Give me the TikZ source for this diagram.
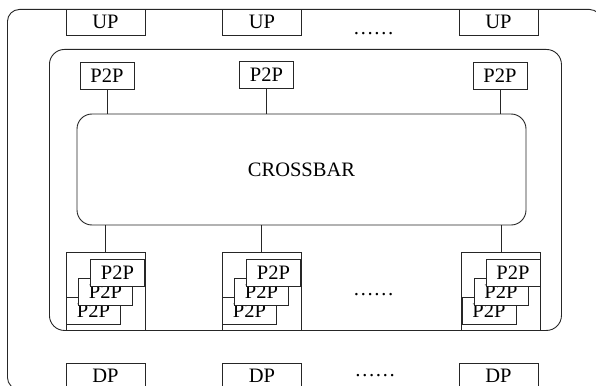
\documentclass[tikz,border=0pt]{standalone}
\usepackage{fontspec}
\setmainfont{Liberation Serif}
\usetikzlibrary{positioning}
\usetikzlibrary{calc}

\begin{document}
\begin{tikzpicture}[x=1pt,y=-1pt,
  box/.style={draw=black!85,line width=0.9pt,inner sep=0pt,font=\fontsize{20.5}{24}\selectfont},
  port/.style={box,minimum width=79pt,minimum height=26pt},
  pp/.style={box,fill=white,minimum width=54pt,minimum height=27pt},
  grp/.style={box,minimum width=79pt,minimum height=78pt},
  frame/.style={box,rounded corners=15pt},
  dots/.style={anchor=base,font=\fontsize{20.5}{24}\selectfont},
  link/.style={draw=black!85,line width=0.9pt}]

  \useasboundingbox (0,0) rectangle (596,385);
  \clip (0,0) rectangle (596,385);

  % Outer system frame and the chip inside it
  \node[frame, rounded corners=12pt, minimum width=594pt, minimum height=380pt, anchor=north west] (sys) at (7,9) {};
  \node[frame, minimum width=512pt, minimum height=281pt, anchor=north west] (chip) at (49,49) {};

  % Upstream ports along the top edge
  \node[port] (up1) at (105.5,22) {UP};
  \node[port] (up2) at (262,22) {UP};
  \node[port] (up3) at (498.5,22) {UP};
  \node[dots] (upd) at (373.5,35) {……};

  % Crossbar with its input P2P blocks
  \node[frame, minimum width=449pt, minimum height=111pt] (xbar) at (301.5,169.5) {CROSSBAR};
  \node[pp] (in1) at (107,75.5) {P2P};
  \node[pp] (in2) at (266.5,75) {P2P};
  \node[pp] (in3) at (500,75.5) {P2P};

  % Output groups, each a stack of three P2P blocks
  \node[grp] (g1) at (105.5,291) {};
  \node[pp, anchor=south west] (g1c) at ([shift={(0.5,-6)}]g1.south west) {P2P};
  \node[pp, anchor=south west] (g1b) at ([shift={(12,-19)}]g1c.south west) {P2P};
  \node[pp, anchor=south west] (g1a) at ([shift={(12,-19)}]g1b.south west) {P2P};

  \node[grp] (g2) at (261.5,291) {};
  \node[pp, anchor=south west] (g2c) at ([shift={(0.5,-6)}]g2.south west) {P2P};
  \node[pp, anchor=south west] (g2b) at ([shift={(12,-19)}]g2c.south west) {P2P};
  \node[pp, anchor=south west] (g2a) at ([shift={(12,-19)}]g2b.south west) {P2P};

  \node[grp] (g3) at (501,291) {};
  \node[pp, anchor=south west] (g3c) at ([shift={(0.5,-6)}]g3.south west) {P2P};
  \node[pp, anchor=south west] (g3b) at ([shift={(12,-19)}]g3c.south west) {P2P};
  \node[pp, anchor=south west] (g3a) at ([shift={(12,-19)}]g3b.south west) {P2P};
  \node[dots] (gd) at (373.5,295) {……};

  % Downstream ports along the bottom edge
  \node[port] (dp1) at (105.5,376) {DP};
  \node[port] (dp2) at (262,376) {DP};
  \node[port] (dp3) at (498.5,376) {DP};
  \node[dots] (dpd) at (375,376) {……};

  \draw[link] (in1.south) -- (in1.south |- xbar.north);
  \draw[link] (in2.south) -- (in2.south |- xbar.north);
  \draw[link] (in3.south) -- (in3.south |- xbar.north);
  \draw[link] (g1.north) -- (g1.north |- xbar.south);
  \draw[link] (g2.north) -- (g2.north |- xbar.south);
  \draw[link] (g3.north) -- (g3.north |- xbar.south);
\end{tikzpicture}
\end{document}
